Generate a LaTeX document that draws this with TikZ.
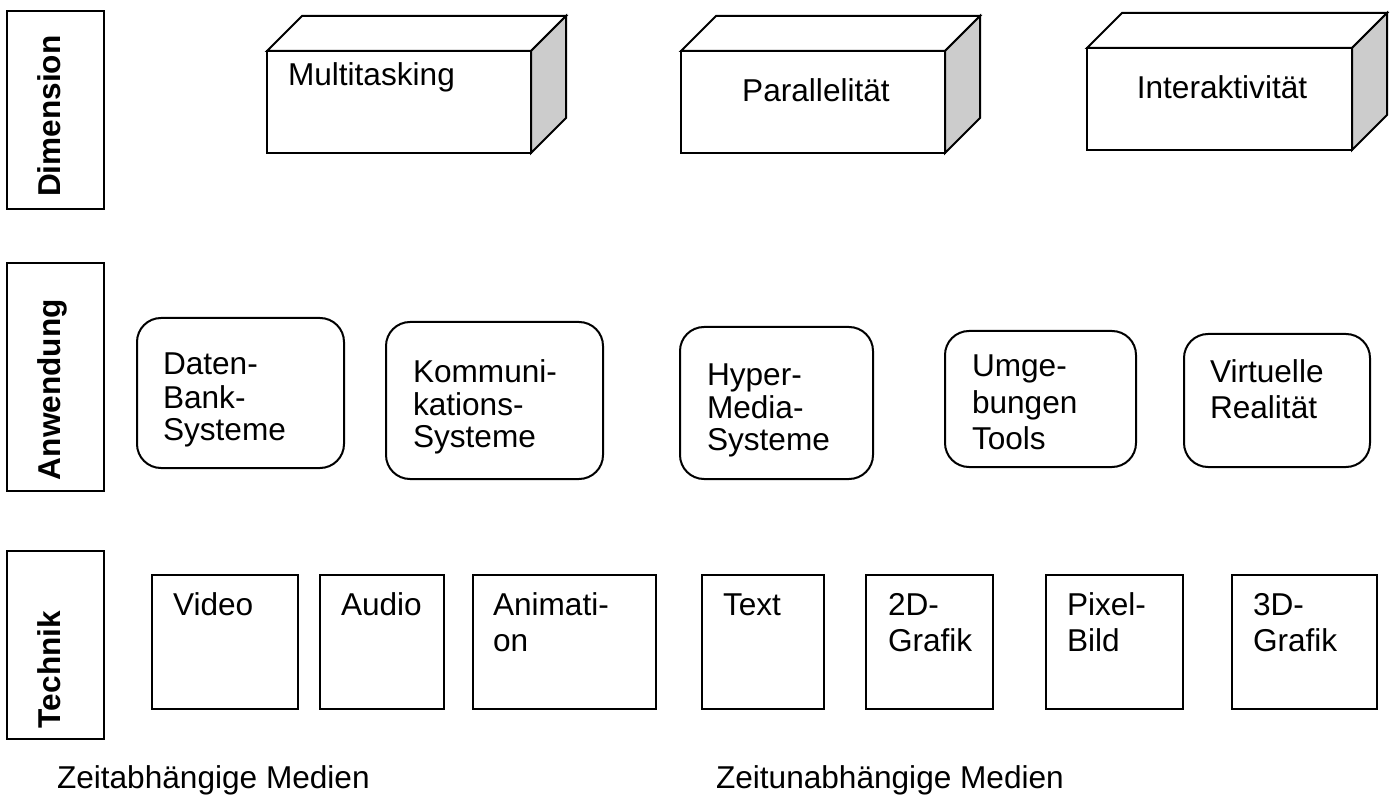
\documentclass[tikz,border=0pt]{standalone}
\usepackage{fontspec}
\setmainfont{Liberation Sans}
\usetikzlibrary{calc,fit}
\definecolor{sidegray}{RGB}{204,204,204}
% stacked lines, first baseline on the node's base
\newcommand{\stk}[1]{\begin{tabular}[t]{@{}l@{}}#1\end{tabular}}
\begin{document}
\begin{tikzpicture}[x=1pt,y=-1pt,line width=2pt,
  every node/.style={inner sep=0pt,outer sep=0pt},
  frame/.style={draw,inner sep=0pt},
  softbox/.style={draw,inner sep=0pt,rounded corners=24pt},
  txt/.style={font=\fontsize{31.6}{33}\selectfont,anchor=base west},
  txtwide/.style={font=\fontsize{31.6}{36.5}\selectfont,anchor=base west},
  lbl/.style={font=\fontsize{31.6}{33}\selectfont\bfseries,rotate=90,anchor=base west},
  depth/.style={draw,fill=white},
  side/.style={draw,fill=sidegray}]
\useasboundingbox (0,0) rectangle (1392,799);

% row labels
\node[frame,fit={(7,11)(104,209)}] (dimbox) {};
\node[lbl] (dimtxt) at (60,197) {Dimension};
\node[frame,fit={(7,263)(104,491)}] (anwbox) {};
\node[lbl] (anwtxt) at (60,480) {Anwendung};
\node[frame,fit={(7,551)(104,739)}] (techbox) {};
\node[lbl] (techtxt) at (60,728) {Technik};

% dimension blocks (front face, top face, shaded side)
\foreach \nm/\xa/\ya/\xb/\yb in {multi/267/51/531/153, para/681/51/945/153, inter/1087/48/1352/150}{
  \node[frame,fit={(\xa,\ya)(\xb,\yb)}] (\nm) {};
  \draw[depth] (\nm.north west) -- ++(35,-35) -- ($(\nm.north east)+(35,-35)$) -- (\nm.north east) -- cycle;
  \draw[side] (\nm.north east) -- ++(35,-35) -- ($(\nm.south east)+(35,-35)$) -- (\nm.south east) -- cycle;
}
\node[txt] (multitxt) at (288,86) {Multitasking};
\node[txt,anchor=base] (paratxt) at (816,102) {Parallelität};
\node[txt,anchor=base] (intertxt) at (1222,99) {Interaktivität};

% applications
\node[softbox,fit={(137,318)(344,468)}] (daten) {};
\node[txt] (datentxt) at (163,375) {\stk{Daten-\\Bank-\\Systeme}};
\node[softbox,fit={(386,322)(603,479)}] (komm) {};
\node[txt] (kommtxt) at (413,382) {\stk{Kommuni-\\kations-\\Systeme}};
\node[softbox,fit={(680,327)(873,479)}] (hyper) {};
\node[txt] (hypertxt) at (707,385) {\stk{Hyper-\\Media-\\Systeme}};
\node[softbox,fit={(945,331)(1136,467)}] (umg) {};
\node[txtwide] (umgtxt) at (972,377) {\stk{Umge-\\bungen\\Tools}};
\node[softbox,fit={(1184,334)(1370,467)}] (virt) {};
\node[txtwide] (virttxt) at (1210,382) {\stk{Virtuelle\\Realität}};

% techniques
\node[frame,fit={(152,575)(298,709)}] (video) {};
\node[txt] (videotxt) at (173,615) {Video};
\node[frame,fit={(320,575)(444,709)}] (audio) {};
\node[txt] (audiotxt) at (341,615) {Audio};
\node[frame,fit={(473,575)(656,709)}] (anim) {};
\node[txtwide] (animtxt) at (493,615) {\stk{Animati-\\on}};
\node[frame,fit={(702,575)(824,709)}] (text) {};
\node[txt] (texttxt) at (723,615) {Text};
\node[frame,fit={(866,575)(993,709)}] (zweid) {};
\node[txtwide] (zweidtxt) at (888,615) {\stk{2D-\\Grafik}};
\node[frame,fit={(1046,575)(1183,709)}] (pixel) {};
\node[txtwide] (pixeltxt) at (1067,615) {\stk{Pixel-\\Bild}};
\node[frame,fit={(1232,575)(1377,709)}] (dreid) {};
\node[txtwide] (dreidtxt) at (1253,615) {\stk{3D-\\Grafik}};

% media groups
\node[txt] (zeitab) at (57,788) {Zeitabhängige Medien};
\node[txt] (zeitun) at (716,788) {Zeitunabhängige Medien};
\end{tikzpicture}
\end{document}
